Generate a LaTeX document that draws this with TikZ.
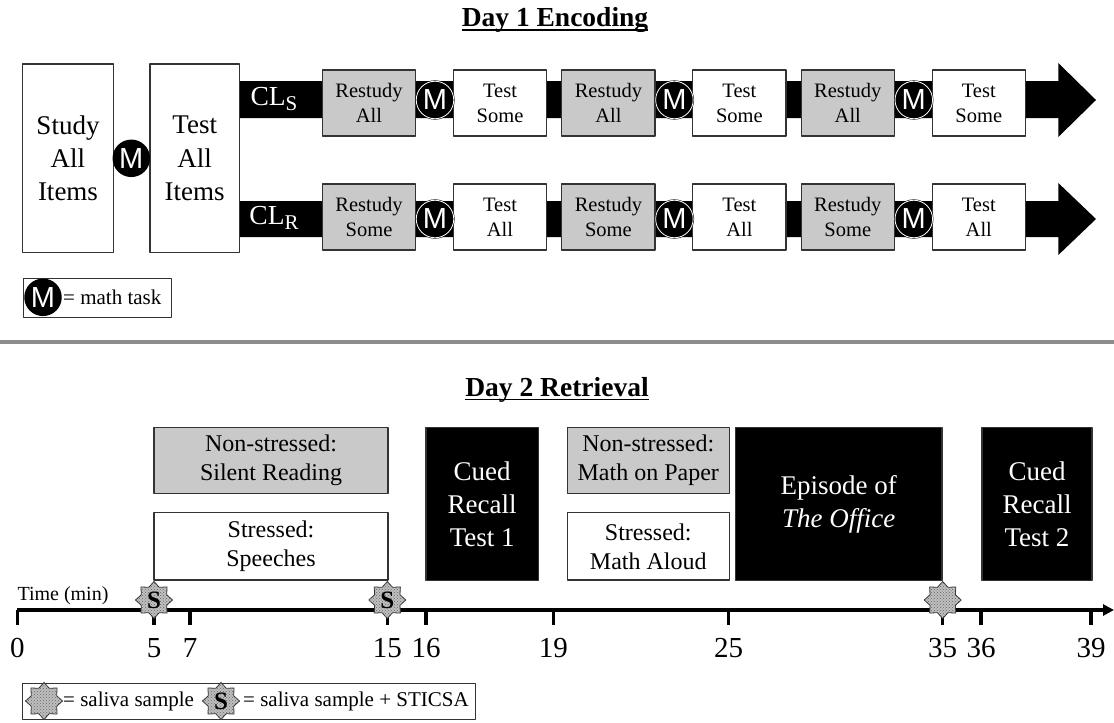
\documentclass[tikz,border=0pt]{standalone}
\usepackage{fontspec}
\setmainfont{Liberation Serif}
\setsansfont{Liberation Sans}
\usetikzlibrary{shapes.geometric,arrows.meta,patterns}

\begin{document}
\begin{tikzpicture}[x=1pt, y=-1pt, line join=round, >={Triangle[length=11pt,width=11pt]},
    box/.style={draw=black!80, line width=1.3pt, align=center, inner sep=0pt},
    greybox/.style={box, fill=black!21},
    whitebox/.style={box, fill=white},
    darkbox/.style={box, fill=black, text=white, font=\fontsize{27}{33}\selectfont},
    rowbox/.style={minimum width=93.3pt, minimum height=66pt, font=\fontsize{20.5}{25}\selectfont},
    daybox/.style={font=\fontsize{24}{29}\selectfont},
    mdot/.style={circle, fill=black, text=white, inner sep=0pt, minimum size=37.5pt,
        font=\sffamily\fontsize{29}{29}\selectfont},
    mring/.style={mdot, draw=black, double=white, double distance=0.8pt, line width=0.5pt},
    saliva/.style={star, star points=8, star point ratio=1.35, minimum size=37pt, inner sep=0pt,
        draw=black!80, line width=0.8pt, fill=black!25,
        postaction={pattern=crosshatch dots, pattern color=black!60},
        font=\bfseries\fontsize{25}{25}\selectfont},
    title/.style={inner sep=0pt, font=\bfseries\fontsize{27.5}{30}\selectfont},
    uline/.style={line width=1.8pt},
    lbl/.style={inner sep=0pt, font=\fontsize{21}{25}\selectfont},
    tick/.style={line width=3.3pt},
    axis/.style={line width=3.3pt, ->}]
  \useasboundingbox (0,0) rectangle (1114,723);

  % Day 1
  \node[title, anchor=base] (day1) at (555,26.7) {Day 1 Encoding};
  \draw[uline] ([yshift=-3.5pt]day1.base west) -- ([yshift=-3.5pt]day1.base east);

  \node[whitebox, minimum width=90.6pt, minimum height=188.7pt, font=\fontsize{27}{33.3}\selectfont]
    (study) at (68,158.3) {Study\\All\\Items};
  \node[whitebox, minimum width=89.3pt, minimum height=188.7pt, font=\fontsize{27}{33.3}\selectfont]
    (testall) at (194.7,158.3) {Test\\All\\Items};
  \node[mdot] (m0) at (131.3,158.3) {M};

  % the two arrows
  \coordinate (tipS) at (1096,100);
  \coordinate (tipR) at (1096,219);
  \fill (testall.east |- 0,81) -- (1058.3,81) -- (1058.3,63) -- (tipS)
    -- (1058.3,137) -- (1058.3,118) -- (testall.east |- 0,118) -- cycle;
  \fill (testall.east |- 0,201) -- (1058.3,201) -- (1058.3,183) -- (tipR)
    -- (1058.3,255) -- (1058.3,237) -- (testall.east |- 0,237) -- cycle;

  \node[text=white, font=\fontsize{27.5}{27.5}\selectfont] (cls) at (274,99)
    {CL\raisebox{-5.5pt}{\fontsize{21}{21}\selectfont S}};
  \node[text=white, font=\fontsize{27.5}{27.5}\selectfont] (clr) at (274,218)
    {CL\raisebox{-5.5pt}{\fontsize{21}{21}\selectfont R}};

  \foreach \i in {1,2,3} {
    \pgfmathsetmacro\dx{239.4*(\i-1)}
    \node[greybox, rowbox] (rsA\i) at ({369+\dx},103) {Restudy\\All};
    \node[whitebox, rowbox] (tsA\i) at ({500+\dx},103) {Test\\Some};
    \node[mring] (mA\i) at ({435+\dx},100) {M};
    \node[greybox, rowbox] (rsB\i) at ({369+\dx},217) {Restudy\\Some};
    \node[whitebox, rowbox] (tsB\i) at ({500+\dx},217) {Test\\All};
    \node[mring] (mB\i) at ({435+\dx},219) {M};
  }

  % legend
  \node[box, anchor=north west, minimum width=148.3pt, minimum height=38.5pt] (leg1) at (22.7,278) {};
  \node[mdot] (mleg) at (43,297.3) {M};
  \node[lbl, anchor=west] (mtxt) at (63,297.3) {= math task};

  \draw[line width=3.5pt, black!45] (0,342) -- (1114,342);

  % Day 2
  \node[title, anchor=base] (day2) at (557,396) {Day 2 Retrieval};
  \draw[uline] ([yshift=-3.5pt]day2.base west) -- ([yshift=-3.5pt]day2.base east);

  \node[greybox, daybox, minimum width=234pt, minimum height=66pt] (silent) at (271,460.3)
    {Non-stressed:\\Silent Reading};
  \node[whitebox, daybox, minimum width=234pt, minimum height=67.3pt] (speech) at (271,546.3)
    {Stressed:\\Speeches};
  \node[darkbox, minimum width=112.3pt, minimum height=153.4pt] (cued1) at (482.2,504)
    {Cued\\Recall\\Test 1};
  \node[greybox, daybox, minimum width=162pt, minimum height=66pt] (paper) at (648.3,460.3)
    {Non-stressed:\\Math on Paper};
  \node[whitebox, daybox, minimum width=162pt, minimum height=67.3pt] (aloud) at (648.3,546.3)
    {Stressed:\\Math Aloud};
  \node[darkbox, minimum width=206.3pt, minimum height=153.4pt] (office) at (838.8,504)
    {Episode of\\\textit{The Office}};
  \node[darkbox, minimum width=110pt, minimum height=153.4pt] (cued2) at (1037,504)
    {Cued\\Recall\\Test 2};

  % time line
  \coordinate (ax0) at (17.3,610);
  \coordinate (axend) at (1114,610);
  \draw[axis] (ax0) -- (axend);
  \foreach \t/\x in {0/17.3,5/154,7/190,15/387.3,16/426,19/553.3,25/728.7,35/942.7,36/981,39/1091} {
    \draw[tick] (\x,610) -- (\x,625);
    \node[inner sep=0pt, anchor=base, font=\fontsize{29}{29}\selectfont] (l\t) at (\x,657) {\t};
  }
  \node[inner sep=0pt, anchor=base west, font=\fontsize{20}{20}\selectfont] (time) at (17.3,600.7) {Time (min)};

  \node[saliva] (s5) at (154,600) {S};
  \node[saliva] (s15) at (387.3,600) {S};
  \node[saliva] (s35) at (942.7,600) {};

  % legend
  \node[box, anchor=north west, minimum width=453pt, minimum height=36pt] (leg2) at (22,683) {};
  \node[saliva] (sleg) at (44,701) {};
  \node[lbl, anchor=west] (stxt) at (63,701) {= saliva sample};
  \node[saliva] (ssleg) at (221,701) {S};
  \node[lbl, anchor=west] (sstxt) at (243,701) {= saliva sample + STICSA};
\end{tikzpicture}
\end{document}
